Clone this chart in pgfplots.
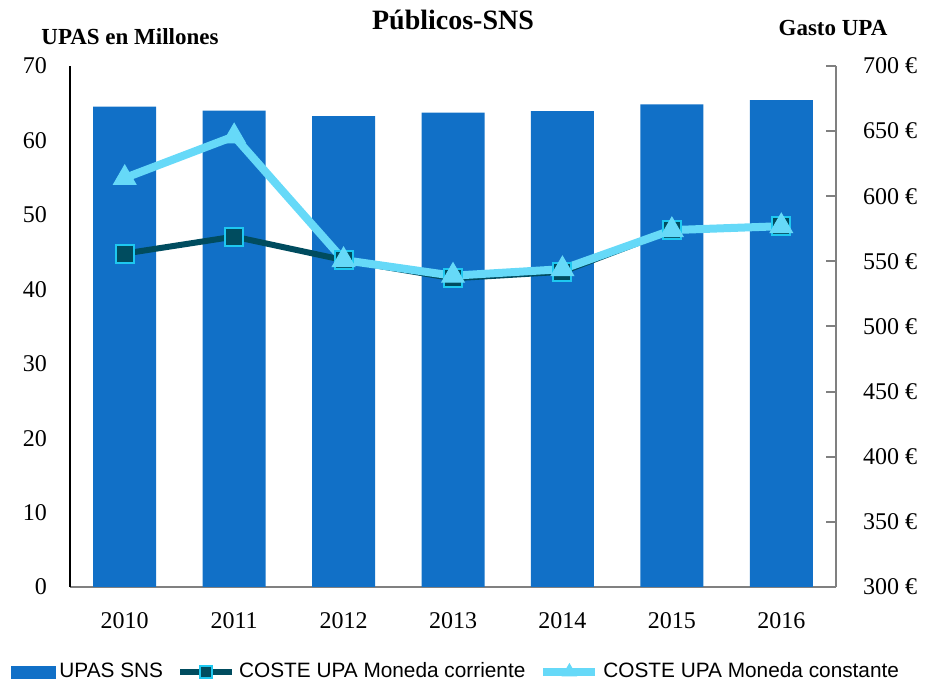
\documentclass[border=0pt]{standalone}
\usepackage{pgfplots}
\pgfplotsset{compat=1.18}
\usepackage{fontspec}
\setmainfont{Liberation Serif}
\setsansfont{Liberation Sans}

\definecolor{barblue}{HTML}{1170C7}
\definecolor{darkteal}{HTML}{004C5F}
\definecolor{edgecyan}{HTML}{1EC8F0}
\definecolor{lightcyan}{HTML}{66D9F8}
\definecolor{axgray}{HTML}{808080}

\pgfplotstableread{
x upas
0 64.53
1 63.99
2 63.28
3 63.73
4 63.95
5 64.85
6 65.42
}\upas

\pgfplotstableread{
x corriente constante
0 556 614
1 569 646
2 551 551
3 537 539
4 542 544
5 574 574
6 577 577
}\coste

\pgfplotsset{
  base/.style={
    scale only axis, width=383pt, height=260.5pt,
    xmin=-0.5, xmax=6.5,
    /pgf/number format/assume math mode=true,
    tick label style={font=\fontsize{12}{14}\selectfont},
  },
  barleg/.style={legend image code/.code={\fill[barblue] (0pt,-3pt) rectangle (22pt,3pt);}},
  sqleg/.style={legend image code/.code={\draw[#1, mark size=3pt, mark repeat=2, mark phase=2] plot coordinates {(0pt,0pt) (13pt,0pt) (26pt,0pt)};}},
  trileg/.style={legend image code/.code={\draw[#1, mark size=4pt, mark repeat=2, mark phase=2] plot coordinates {(0pt,0pt) (13pt,0pt) (26pt,0pt)};}},
}

\begin{document}
\begin{tikzpicture}
\begin{axis}[base,
    ymin=0, ymax=70, ytick={0,10,...,70},
    xtick={0,...,6}, xticklabels={2010,2011,2012,2013,2014,2015,2016},
    axis x line*=bottom, axis y line*=left,
    x axis line style={draw=axgray, line width=1pt, -},
    y axis line style={draw=black, line width=0.8pt, -},
    xtick style={draw=none}, ytick style={draw=none},
    yticklabel style={xshift=-8pt},
    xticklabel style={yshift=-9pt},
    title={\bfseries Públicos-SNS},
    title style={at={(0.5,1)}, anchor=center, yshift=17pt, font=\fontsize{14}{16}\selectfont},
    clip=false,
]
\addplot[ybar, bar width=31.5pt, fill=barblue, draw=none] table[x=x, y=upas] {\upas};
\node[font=\bfseries\fontsize{11.5}{13}\selectfont] at (rel axis cs:0,1) [xshift=30pt, yshift=14.5pt] {UPAS en Millones};
\node[font=\bfseries\fontsize{11.5}{13}\selectfont] at (rel axis cs:1,1) [xshift=-1.5pt, yshift=19pt] {Gasto UPA};
\path (rel axis cs:0,0) ++(-35pt,-49.5pt) coordinate (bbA);
\path (rel axis cs:1,1) ++(45pt,33pt) coordinate (bbB);
\end{axis}
\begin{axis}[base,
    ymin=300, ymax=700, ytick={300,350,...,700},
    yticklabel={\pgfmathprintnumber{\tick}~€},
    axis x line=none, axis y line*=right,
    y axis line style={draw=axgray, line width=1pt, -},
    ytick style={draw=axgray, line width=1pt},
    tick align=inside, major tick length=5pt,
    yticklabel style={anchor=west, xshift=10pt},
    clip=false,
    legend columns=3,
    legend style={at={(0.505,-0.163)}, anchor=center, draw=none,
      font=\sffamily\fontsize{10.4}{12}\selectfont,
      /tikz/every even column/.append style={column sep=5pt}},
]
\addlegendimage{barleg}
\addlegendentry{UPAS SNS}
\addplot[darkteal, line width=3pt, mark=square*, mark size=4.5pt,
  mark options={fill=darkteal, draw=edgecyan, line width=1pt}, sqleg]
  table[x=x, y=corriente] {\coste};
\addlegendentry{COSTE UPA Moneda corriente}
\addplot[lightcyan, line width=4pt, mark=triangle*, mark size=6.5pt,
  mark options={fill=lightcyan, draw=lightcyan, line width=0.5pt}, trileg]
  table[x=x, y=constante] {\coste};
\addlegendentry{COSTE UPA Moneda constante}
\end{axis}
\pgfresetboundingbox
\path (bbA) rectangle (bbB);
\end{tikzpicture}
\end{document}
